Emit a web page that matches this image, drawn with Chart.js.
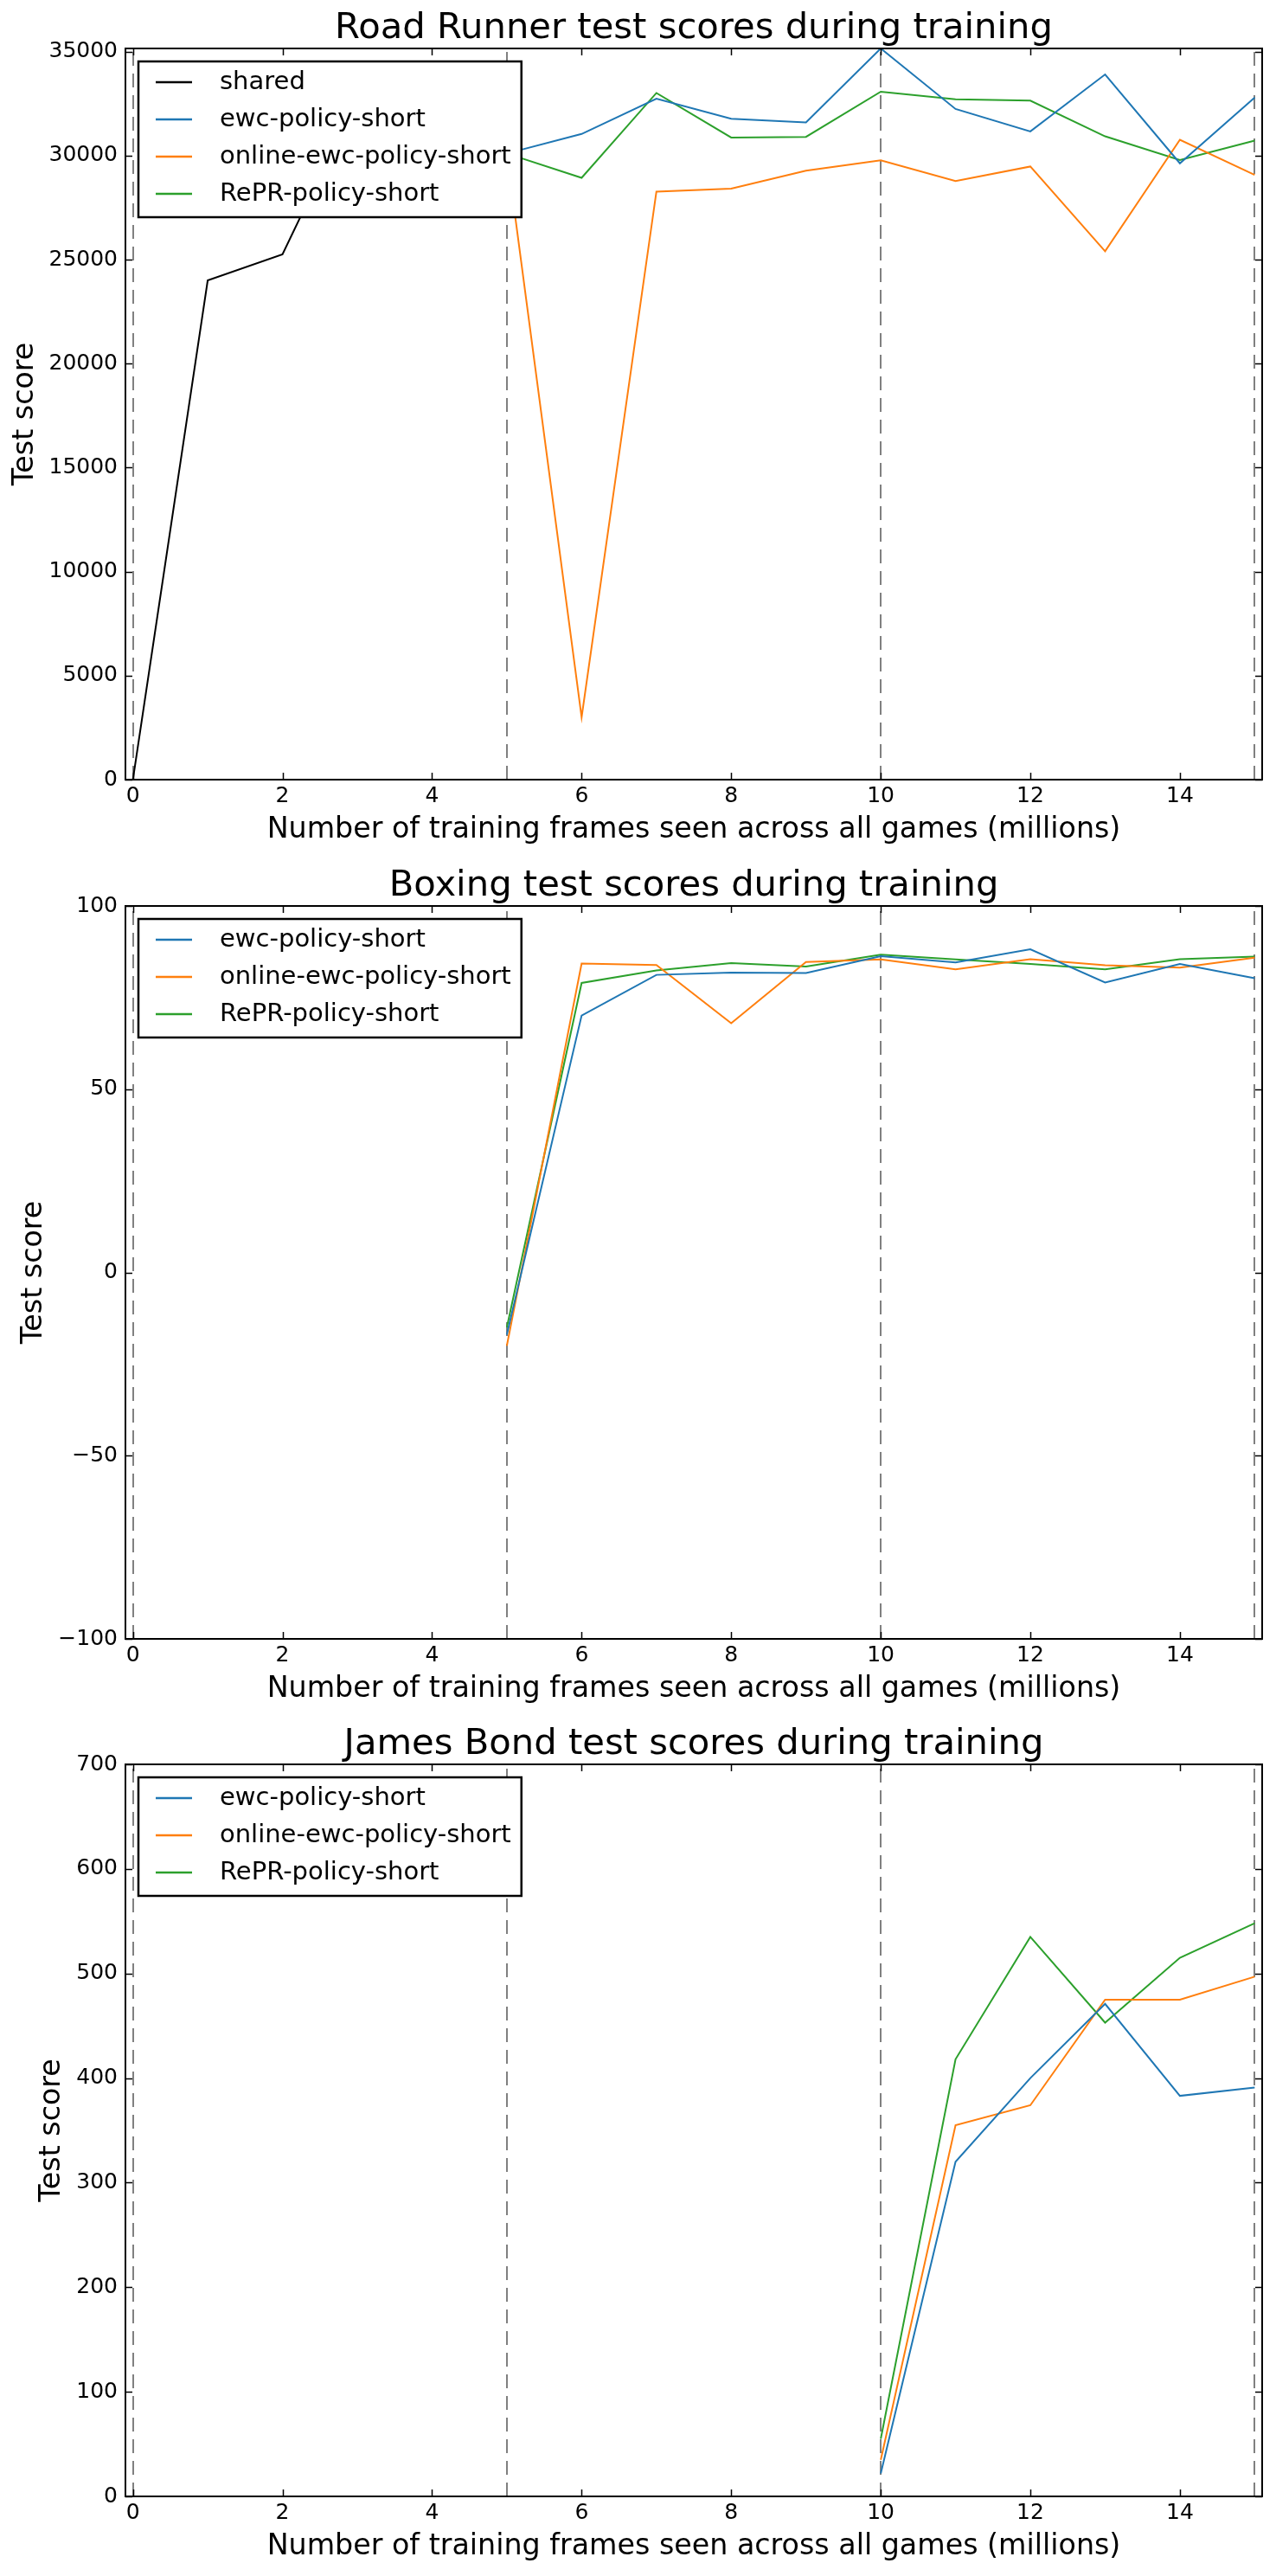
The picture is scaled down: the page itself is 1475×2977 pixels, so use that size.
<!DOCTYPE html>
<html><head><meta charset="utf-8">
<script src="https://cdn.jsdelivr.net/npm/chart.js@4.4.0/dist/chart.umd.min.js"></script>
<style>
html,body{margin:0;padding:0;background:#fff;}
#wrap{position:relative;width:1475px;height:2977px;background:#fff;}
canvas{position:absolute;left:0;}
</style></head><body>
<div id="wrap">
<canvas id="c1" width="1475" height="985" style="top:0px"></canvas>
<canvas id="c2" width="1475" height="992" style="top:985px"></canvas>
<canvas id="c3" width="1475" height="1000" style="top:1977px"></canvas>
</div>
<script>
// ---- data ----
const seriesNames = ['shared', 'ewc-policy-short', 'online-ewc-policy-short', 'RePR-policy-short'];
const seriesColors = ['#000000', '#1f77b4', '#ff7f0e', '#2ca02c'];
const taskBoundaries = [0, 5, 10, 15];
const xTicks = [0, 2, 4, 6, 8, 10, 12, 14];
const xLabel = 'Number of training frames seen across all games (millions)';
const yLabel = 'Test score';

// Road Runner
const rrTitle = 'Road Runner test scores during training';
const rrSharedX = [0, 1, 2, 3, 4, 5];
const rrShared = [0, 24000, 25250, 32750, 31500, 30100];
const rrX = [5, 6, 7, 8, 9, 10, 11, 12, 13, 14, 15];
const rrEwc = [30100, 31040, 32735, 31770, 31590, 35150, 32240, 31160, 33900, 29630, 32790];
const rrOnline = [30100, 3000, 28270, 28410, 29270, 29770, 28780, 29475, 25400, 30760, 29075];
const rrRepr = [30100, 28930, 33010, 30870, 30900, 33070, 32710, 32640, 30925, 29790, 30720];
const rrYTicks = [0, 5000, 10000, 15000, 20000, 25000, 30000, 35000];
const rrYRange = [0, 35150];

// Boxing
const bxTitle = 'Boxing test scores during training';
const bxX = [5, 6, 7, 8, 9, 10, 11, 12, 13, 14, 15];
const bxEwc = [-17, 70.1, 81.2, 81.8, 81.7, 86.3, 84.6, 88.2, 79.1, 84.2, 80.3];
const bxOnline = [-20, 84.3, 83.9, 68.0, 84.7, 85.4, 82.7, 85.5, 83.8, 83.2, 85.9];
const bxRepr = [-15, 79.0, 82.4, 84.4, 83.5, 86.7, 85.4, 84.2, 82.7, 85.5, 86.2];
const bxYTicks = [-100, -50, 0, 50, 100];
const bxYRange = [-100, 100];

// James Bond
const jbTitle = 'James Bond test scores during training';
const jbX = [10, 11, 12, 13, 14, 15];
const jbEwc = [22, 320, 400, 471, 383, 391];
const jbOnline = [35, 355, 374, 475, 475, 497];
const jbRepr = [55, 418, 535, 453, 515, 548];
const jbYTicks = [0, 100, 200, 300, 400, 500, 600, 700];
const jbYRange = [0, 700];

// ---- rendering ----
const FONT = '"DejaVu Sans", "Liberation Sans", sans-serif';

function pts(xs, ys) { return xs.map((x, i) => ({x: x, y: ys[i]})); }
function fmt(v) { return String(v).replace('-', '\u2212'); }

const decor = {
  id: 'decor',
  beforeDatasetsDraw(chart) {
    const {ctx, chartArea: a, scales} = chart;
    ctx.save();
    ctx.beginPath(); ctx.rect(a.left, a.top, a.right - a.left, a.bottom - a.top); ctx.clip();
    ctx.strokeStyle = '#808080';
    ctx.lineWidth = 2;
    ctx.setLineDash([16, 9]);
    taskBoundaries.forEach(v => {
      const px = Math.round(scales.x.getPixelForValue(v));
      ctx.beginPath(); ctx.moveTo(px, a.bottom); ctx.lineTo(px, a.top); ctx.stroke();
    });
    ctx.restore();
  },
  afterDatasetsDraw(chart, args, opts) {
    const {ctx, chartArea: a, scales} = chart;
    ctx.save();
    // ticks inside on four sides
    ctx.strokeStyle = '#000'; ctx.lineWidth = 1.5; ctx.setLineDash([]);
    xTicks.forEach(v => {
      const px = Math.round(scales.x.getPixelForValue(v)) + 0.5;
      ctx.beginPath(); ctx.moveTo(px, a.bottom); ctx.lineTo(px, a.bottom - 8);
      ctx.moveTo(px, a.top); ctx.lineTo(px, a.top + 8); ctx.stroke();
    });
    opts.yTicks.forEach(v => {
      const py = Math.round(scales.y.getPixelForValue(v)) + 0.5;
      ctx.beginPath(); ctx.moveTo(a.left, py); ctx.lineTo(a.left + 8, py);
      ctx.moveTo(a.right, py); ctx.lineTo(a.right - 8, py); ctx.stroke();
    });
    // frame
    ctx.lineWidth = 2;
    ctx.strokeRect(a.left, a.top, a.right - a.left, a.bottom - a.top);
    // legend
    const ds = chart.data.datasets;
    ctx.font = '29px ' + FONT;
    let maxW = 0;
    ds.forEach(d => { maxW = Math.max(maxW, ctx.measureText(d.label).width); });
    const lx = a.left + 15, ly = a.top + 15;
    const lw = 94 + maxW + 12, lh = ds.length * 43 + 8;
    ctx.fillStyle = '#fff';
    ctx.fillRect(lx, ly, lw, lh);
    ctx.strokeStyle = '#000'; ctx.lineWidth = 2.5;
    ctx.strokeRect(lx, ly, lw, lh);
    ds.forEach((d, i) => {
      const cy = ly + 24 + i * 43;
      ctx.strokeStyle = d.borderColor; ctx.lineWidth = 2.5;
      ctx.beginPath(); ctx.moveTo(lx + 20, cy); ctx.lineTo(lx + 62, cy); ctx.stroke();
      ctx.fillStyle = '#000'; ctx.textAlign = 'left'; ctx.textBaseline = 'middle';
      ctx.fillText(d.label, lx + 94, cy);
    });
    ctx.restore();
  },
  afterDraw(chart, args, opts) {
    const {ctx, chartArea: a} = chart;
    ctx.save();
    ctx.font = '41.7px ' + FONT;
    ctx.fillStyle = '#000'; ctx.textAlign = 'center'; ctx.textBaseline = 'alphabetic';
    ctx.fillText(opts.title, (a.left + a.right) / 2, a.top - 12.5);
    ctx.restore();
  }
};

function makeChart(id, cfg) {
  const datasets = cfg.series.map(s => ({
    label: seriesNames[s.idx],
    data: pts(s.x, s.y),
    borderColor: seriesColors[s.idx],
    backgroundColor: seriesColors[s.idx],
    borderWidth: 2,
    pointRadius: 0,
    pointHoverRadius: 0,
    fill: false,
    tension: 0
  }));
  return new Chart(document.getElementById(id), {
    type: 'line',
    data: {datasets},
    plugins: [decor],
    options: {
      responsive: false,
      animation: false,
      devicePixelRatio: 1,
      parsing: true,
      layout: {padding: {top: cfg.padTop, right: 16, bottom: cfg.padBottom, left: 0}},
      plugins: {
        legend: {display: false},
        tooltip: {enabled: false},
        title: {display: false},
        decor: {title: cfg.title, yTicks: cfg.yTicks}
      },
      scales: {
        x: {
          type: 'linear', min: -0.1, max: 15.1,
          afterBuildTicks: s => { s.ticks = xTicks.map(v => ({value: v})); },
          afterFit: s => { s.height = 78; },
          grid: {display: false, drawTicks: false},
          border: {display: false},
          ticks: {font: {family: FONT, size: 25}, color: '#000', padding: 4, maxRotation: 0, autoSkip: false,
                  callback: v => fmt(v)},
          title: {display: true, text: xLabel, color: '#000', font: {family: FONT, size: 33.3}, padding: {top: 0, bottom: 0}}
        },
        y: {
          type: 'linear', min: cfg.yRange[0], max: cfg.yRange[1],
          afterBuildTicks: s => { s.ticks = cfg.yTicks.map(v => ({value: v})); },
          afterFit: s => { s.width = 145; },
          grid: {display: false, drawTicks: false},
          border: {display: false},
          ticks: {font: {family: FONT, size: 25}, color: '#000', padding: 9, autoSkip: false,
                  callback: v => fmt(v)},
          title: {display: true, text: yLabel, color: '#000', font: {family: FONT, size: 33.3}, padding: {top: cfg.yTitlePad, bottom: 0}}
        }
      }
    }
  });
}

makeChart('c1', {
  title: rrTitle, padTop: 56, padBottom: 6, yRange: rrYRange, yTicks: rrYTicks, yTitlePad: 9.2,
  series: [
    {idx: 0, x: rrSharedX, y: rrShared},
    {idx: 1, x: rrX, y: rrEwc},
    {idx: 2, x: rrX, y: rrOnline},
    {idx: 3, x: rrX, y: rrRepr}
  ]
});
makeChart('c2', {
  title: bxTitle, padTop: 62, padBottom: 5, yRange: bxYRange, yTicks: bxYTicks, yTitlePad: 19.2,
  series: [
    {idx: 1, x: bxX, y: bxEwc},
    {idx: 2, x: bxX, y: bxOnline},
    {idx: 3, x: bxX, y: bxRepr}
  ]
});
makeChart('c3', {
  title: jbTitle, padTop: 62, padBottom: 14, yRange: jbYRange, yTicks: jbYTicks, yTitlePad: 40.2,
  series: [
    {idx: 1, x: jbX, y: jbEwc},
    {idx: 2, x: jbX, y: jbOnline},
    {idx: 3, x: jbX, y: jbRepr}
  ]
});
</script>
</body></html>
